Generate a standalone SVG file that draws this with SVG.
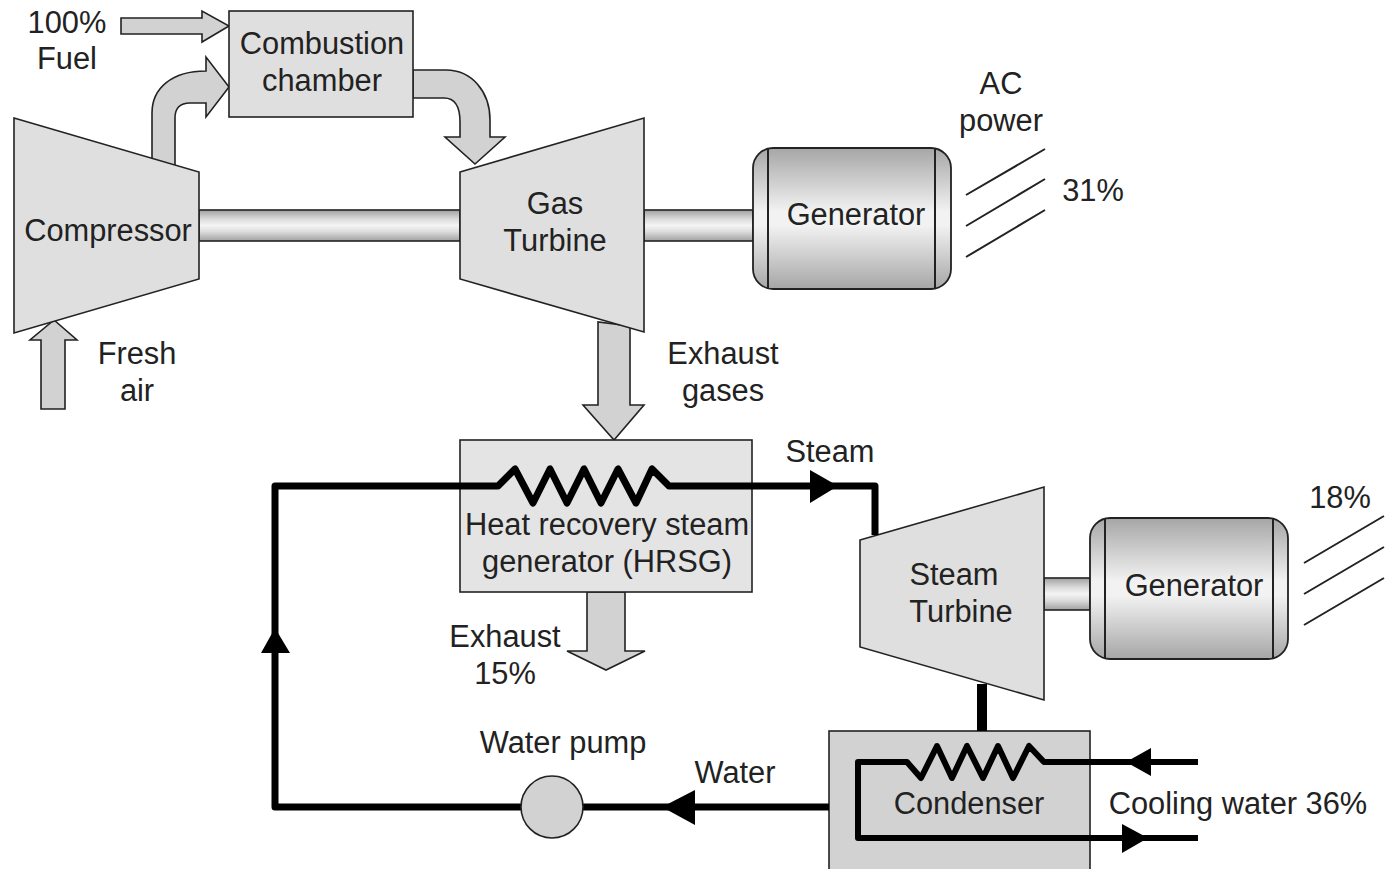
<svg xmlns="http://www.w3.org/2000/svg" width="1392" height="869" viewBox="0 0 1392 869">
<style>
text{font-family:"Liberation Sans",Arial,sans-serif;font-size:30.8px;fill:#222;text-anchor:middle}
.m{fill:#dfdfdf;stroke:#222;stroke-width:1.6}
.a{fill:#d2d2d2;stroke:#222;stroke-width:1.6}
.s{fill:url(#sh);stroke:#222;stroke-width:1.6}
.g{fill:url(#gen);stroke:#222;stroke-width:1.8}
.p{fill:none;stroke:#000;stroke-width:7;stroke-linejoin:round}
.h{fill:#000;stroke:none}
.t{fill:none;stroke:#222;stroke-width:2}
</style>
<defs>
<linearGradient id="sh" x1="0" y1="0" x2="0" y2="1"><stop offset="0" stop-color="#a0a0a0"/><stop offset=".3" stop-color="#dcdcdc"/><stop offset=".5" stop-color="#f4f4f4"/><stop offset=".7" stop-color="#dcdcdc"/><stop offset="1" stop-color="#a0a0a0"/></linearGradient>
<linearGradient id="gen" x1="0" y1="0" x2="0" y2="1"><stop offset="0" stop-color="#a6a6a6"/><stop offset=".45" stop-color="#f2f2f2"/><stop offset=".55" stop-color="#f2f2f2"/><stop offset="1" stop-color="#a6a6a6"/></linearGradient>
</defs>
<rect width="1392" height="869" fill="#fff"/>
<g id="connectors">
<path class="a" d="M121 18H202V11L229 26L202 42V34H121Z"/>
<path class="a" d="M152 160V113C152 88 172 71 206 71V57L229 87L206 117V103H190C180 103 175 108 175 118V166Z"/>
<path class="a" d="M413 70H446C472 70 490 92 490 120V137H505L475 164L445 137H460V122C460 106 455 98 444 98H413Z"/>
<path class="a" d="M41 409V340H30L54 320L77 340H65V409Z"/>
<path class="a" d="M598 322V405H583L614 440L644 405H630V326Z"/>
<path class="a" d="M587 592V651H567L606 670L645 651H625V592Z"/>
</g>
<g id="compressor"><rect class="s" x="199" y="210" width="261" height="31"/><path class="m" d="M14 118L199 172V279L14 333Z"/><text x="108" y="241">Compressor</text></g>
<g id="gas-turbine"><rect class="s" x="644" y="210" width="109" height="31"/><path class="m" d="M460 172L644 118V332L460 279Z"/><text x="555" y="214">Gas</text><text x="555" y="251">Turbine</text></g>
<g id="combustion"><rect class="m" x="229" y="11" width="184" height="106"/><text x="322" y="54">Combustion</text><text x="322" y="91">chamber</text></g>
<g id="generator1"><rect class="g" x="753" y="148" width="198" height="141" rx="20"/><path class="t" d="M768 148V289M935 148V289"/><text x="856" y="225">Generator</text></g>
<g id="power1"><path class="t" d="M966 195L1045 149M966 226L1045 179M966 257L1045 210"/><text x="1001" y="94">AC</text><text x="1001" y="131">power</text><text x="1093" y="201">31%</text></g>
<g id="hrsg"><rect x="460" y="440" width="292" height="152" fill="#e4e4e4" stroke="#222" stroke-width="1.6"/></g>
<g id="steam-turbine"><rect class="s" x="1044" y="578" width="46" height="32"/><path class="m" d="M860 540L1044 487V700L860 647Z"/><text x="954" y="585">Steam</text><text x="961" y="622">Turbine</text></g>
<g id="generator2"><rect class="g" x="1090" y="518" width="198" height="141" rx="20"/><path class="t" d="M1105 518V659M1273 518V659"/><text x="1194" y="596">Generator</text></g>
<g id="power2"><path class="t" d="M1304 563L1384 516M1304 594L1384 547M1304 625L1384 578"/><text x="1340" y="508">18%</text></g>
<g id="condenser"><rect x="829" y="731" width="261" height="142" fill="#d2d2d2" stroke="#222" stroke-width="1.6"/></g>
<g id="pipes">
<path class="p" d="M875 535V486H669L652 469L636 503L618 469L601 503L584 469L567 503L550 469L533 503L515 469L498 486H275V807H829"/>
<path class="h" d="M810 470L838 486L810 503ZM261 653L275 628L290 653ZM695 790L662 807L695 825Z"/>
<rect x="977" y="684" width="10" height="47"/>
<path class="p" style="stroke-width:6" d="M1198 762H1044L1029 746L1013 778L998 746L983 778L967 746L952 778L937 746L921 778L907 762H858V838H1198"/>
<path class="h" d="M1126 762L1151 748V776ZM1122 824L1148 838L1122 853Z"/>
</g>
<g id="pump"><circle cx="552" cy="807" r="31" fill="#d2d2d2" stroke="#222" stroke-width="1.6"/></g>
<g id="labels">
<text x="67" y="33">100%</text><text x="67" y="69">Fuel</text>
<text x="137" y="364">Fresh</text><text x="137" y="401">air</text>
<text x="723" y="364">Exhaust</text><text x="723" y="401">gases</text>
<text x="830" y="462">Steam</text>
<text x="607" y="535">Heat recovery steam</text><text x="607" y="572">generator (HRSG)</text>
<text x="505" y="647">Exhaust</text><text x="505" y="684">15%</text>
<text x="563" y="753">Water pump</text>
<text x="735" y="783">Water</text>
<text x="969" y="814">Condenser</text>
<text x="1238" y="814">Cooling water 36%</text>
</g>
</svg>
